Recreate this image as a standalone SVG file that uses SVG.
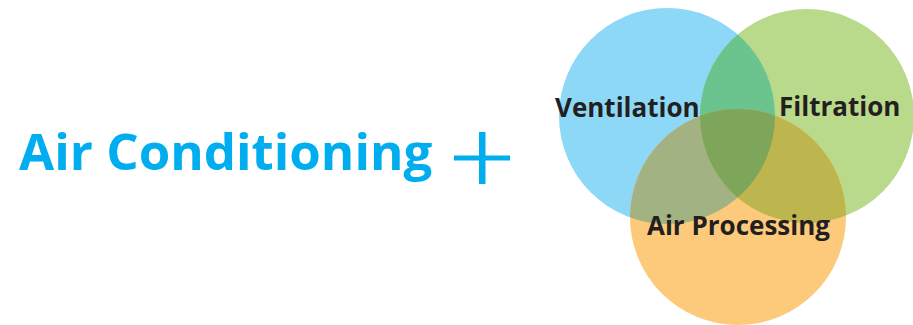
<svg xmlns="http://www.w3.org/2000/svg" width="913" height="325" viewBox="0 0 913 325">
<style>
.title{font-family:"Open Sans","Liberation Sans",sans-serif;font-weight:700;font-size:51px;fill:#00aeef}
.lbl{font-family:"Open Sans","Liberation Sans",sans-serif;font-weight:700;font-size:26px;fill:#231f20}
</style>
<defs>
<clipPath id="cBlue"><circle cx="667" cy="116" r="108"/></clipPath>
<clipPath id="cGreen"><circle cx="807" cy="116" r="107"/></clipPath>
</defs>
<rect width="913" height="325" fill="#fff"/>
<g id="title">
<text class="title" x="19" y="170">Air Conditioning</text>
<rect x="454" y="155.5" width="56" height="5" fill="#00aeef"/>
<rect x="479" y="132" width="6.5" height="52" fill="#00aeef"/>
</g>
<g id="ventilation"><circle cx="667" cy="116" r="108" fill="#8dd8f6"/></g>
<g id="filtration"><circle cx="807" cy="116" r="107" fill="#b9da8a"/></g>
<g id="air-processing"><circle cx="738" cy="217" r="108" fill="#fdca7b"/></g>
<g id="overlaps">
<circle cx="807" cy="116" r="107" fill="#6bc38d" clip-path="url(#cBlue)"/>
<circle cx="738" cy="217" r="108" fill="#a2b283" clip-path="url(#cBlue)"/>
<circle cx="738" cy="217" r="108" fill="#bdb54e" clip-path="url(#cGreen)"/>
<g clip-path="url(#cBlue)"><circle cx="738" cy="217" r="108" fill="#7ea65a" clip-path="url(#cGreen)"/></g>
</g>
<g id="labels">
<text class="lbl" x="555" y="117">Ventilation</text>
<text class="lbl" x="779" y="116">Filtration</text>
<text class="lbl" x="647" y="235">Air Processing</text>
</g>
</svg>
